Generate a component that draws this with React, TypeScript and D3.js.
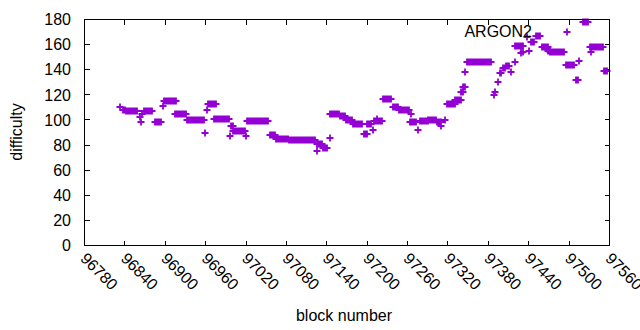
import React from "react";
import * as d3 from "d3";

// Runs of blocks with (nearly) constant difficulty
const runStart = [96833, 96837, 96841, 96862, 96864, 96866, 96868, 96884, 96896, 96898, 96914, 96932, 96959, 96962, 96963, 96972, 96996, 96998, 97001, 97020, 97021, 97056, 97064, 97084, 97126, 97125, 97134, 97144, 97145, 97159, 97168, 97179, 97195, 97200, 97208, 97210, 97214, 97224, 97238, 97247, 97265, 97264, 97276, 97278, 97291, 97303, 97310, 97315, 97319, 97331, 97340, 97343, 97346, 97349, 97388, 97390, 97394, 97397, 97402, 97406, 97413, 97419, 97420, 97428, 97432, 97438, 97440, 97444, 97451, 97460, 97469, 97472, 97495, 97510, 97515, 97520, 97532, 97531, 97552];
const runEnd = [96833, 96840, 96858, 96862, 96864, 96866, 96881, 96893, 96896, 96916, 96931, 96957, 96959, 96962, 96975, 96994, 96996, 97000, 97019, 97020, 97053, 97063, 97083, 97123, 97126, 97133, 97141, 97144, 97158, 97167, 97178, 97193, 97199, 97205, 97208, 97222, 97214, 97236, 97246, 97262, 97265, 97272, 97276, 97290, 97302, 97309, 97310, 97315, 97330, 97339, 97342, 97345, 97346, 97384, 97388, 97390, 97394, 97399, 97404, 97410, 97413, 97419, 97431, 97428, 97432, 97438, 97440, 97448, 97457, 97468, 97471, 97492, 97507, 97513, 97515, 97528, 97532, 97550, 97556];
const runDiff = [110.5, 108, 107, 102, 98, 105, 107, 98, 111.5, 115, 105, 100, 90, 108, 113, 101, 87, 95, 91, 87, 99, 88, 85, 84, 75, 81, 78, 86, 105, 103, 100, 97, 89, 97, 92, 99, 101, 117, 110, 108, 105, 98, 92, 99, 100, 98, 95, 100, 113, 116, 122, 126, 138, 146, 120, 122, 130, 137, 141, 143, 138, 146, 158.5, 153, 154, 166, 155, 162, 166.5, 158, 155, 154, 144, 132, 147, 178, 154, 158, 139];

const xTicks = [96780, 96840, 96900, 96960, 97020, 97080, 97140, 97200, 97260, 97320, 97380, 97440, 97500, 97560];
const yTicks = [0, 20, 40, 60, 80, 100, 120, 140, 160, 180];
const seriesName = "ARGON2";

const COLOR = "#9400d3";
const FONT = "'Liberation Sans', Arial, sans-serif";

function plusPath(cx: number, cy: number, h: number) {
  return `M${cx - h},${cy}H${cx + h}M${cx},${cy - h}V${cy + h}`;
}

export default function App() {
  const left = 84.5, right = 609.5, top = 19.5, bottom = 245.5;
  const x = d3.scaleLinear().domain([96780, 97560]).range([left, right]);
  const y = d3.scaleLinear().domain([0, 180]).range([bottom, top]);

  const points: { b: number; d: number }[] = [];
  runStart.forEach((s, i) => {
    for (let b = s; b <= runEnd[i]; b++) points.push({ b, d: runDiff[i] });
  });

  const half = 3.5;
  const pathD = points
    .map((p) => plusPath(Math.round(x(p.b)), Math.round(y(p.d)), half))
    .join("");
  const tl = 5;

  return (
    <svg
      width={640}
      height={330}
      style={{ position: "absolute", left: 0, top: 0, background: "#fff" }}
      fontFamily={FONT}
      fontSize={16}
    >
      <rect x={0} y={0} width={640} height={330} fill="#fff" />
      {/* ticks */}
      <g stroke="#000" strokeWidth={1} shapeRendering="crispEdges">
        {yTicks.map((t) => (
          <g key={"y" + t}>
            <line x1={left} x2={left + tl} y1={y(t)} y2={y(t)} />
            <line x1={right} x2={right - tl} y1={y(t)} y2={y(t)} />
          </g>
        ))}
        {xTicks.map((t) => (
          <g key={"x" + t}>
            <line x1={x(t)} x2={x(t)} y1={bottom} y2={bottom - tl} />
            <line x1={x(t)} x2={x(t)} y1={top} y2={top + tl} />
          </g>
        ))}
      </g>
      {yTicks.map((t) => (
        <text key={"yl" + t} x={71} y={y(t)} dy="0.36em" textAnchor="end" fill="#000">
          {t}
        </text>
      ))}
      {xTicks.map((t) => (
        <text
          key={"xl" + t}
          transform={`translate(${x(t) - 5},${bottom + 14}) rotate(45)`}
          textAnchor="start"
          fill="#000"
        >
          {t}
        </text>
      ))}
      <text x={344} y={321} textAnchor="middle" fill="#000">block number</text>
      <text transform="translate(22,132) rotate(-90)" textAnchor="middle" fill="#000">difficulty</text>
      {/* data */}
      <path d={pathD} stroke={COLOR} strokeWidth={1.8} fill="none" />
      {/* key */}
      <text x={532} y={37} textAnchor="end" fill="#000">{seriesName}</text>
      <path d={plusPath(567, 32, half)} stroke={COLOR} strokeWidth={1.8} fill="none" />
      {/* border */}
      <rect x={left} y={top} width={right - left} height={bottom - top} fill="none" stroke="#000" strokeWidth={1} shapeRendering="crispEdges" />
    </svg>
  );
}
